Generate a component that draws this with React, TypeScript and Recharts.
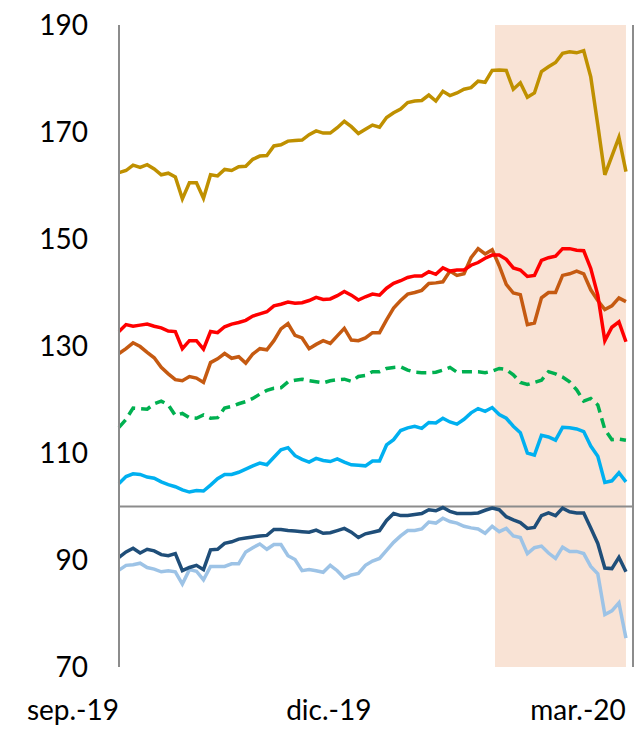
import { LineChart, Line, XAxis, YAxis, ReferenceArea, ReferenceLine } from 'recharts'

// sampled roughly every 2-3 days, sep.-19 to mar.-20 (index 100 = base line)
const gold = [
  162.4, 162.8, 163.8, 163.4, 163.9, 163.1, 162.0, 162.3, 161.6, 157.5,
  160.5, 160.5, 157.6, 162.0, 161.8, 163.0, 162.8, 163.5, 163.6, 164.9,
  165.5, 165.6, 167.4, 167.6, 168.3, 168.4, 168.5, 169.5, 170.2, 169.8,
  169.8, 170.8, 172.0, 171.0, 169.7, 170.5, 171.3, 170.9, 172.7, 173.6,
  174.3, 175.5, 175.8, 175.9, 176.9, 175.8, 177.6, 176.8, 177.3, 178.0,
  178.3, 179.5, 179.3, 181.5, 181.6, 181.5, 178.0, 179.2, 176.5, 177.3,
  181.3, 182.2, 183.0, 184.7, 185.0, 184.8, 185.2, 180.3, 171.3, 162.0,
  165.5, 169.0, 162.6,
]
const red = [
  132.7, 134.0, 133.7, 133.9, 134.1, 133.7, 133.4, 132.8, 132.7, 129.5,
  131.0, 131.0, 129.4, 132.7, 132.5, 133.6, 134.1, 134.4, 134.8, 135.6,
  136.0, 136.4, 137.5, 137.8, 138.2, 138.0, 138.1, 138.5, 139.1, 138.7,
  138.8, 139.4, 140.2, 139.5, 138.6, 139.2, 139.7, 139.5, 140.8, 141.7,
  142.2, 142.8, 143.1, 143.1, 143.9, 143.4, 144.6, 144.0, 144.2, 144.2,
  145.1, 145.6, 146.4, 147.0, 147.0, 146.2, 144.6, 144.2, 143.0, 143.2,
  146.0, 146.5, 146.8, 148.2, 148.2, 147.9, 147.8, 144.5, 139.5, 131.0,
  133.5, 134.5, 130.8,
]
const orange = [
  128.6, 129.5, 130.6, 129.9, 128.8, 127.8, 126.0, 124.8, 123.7, 123.5,
  124.3, 124.0, 123.2, 126.9, 127.6, 128.6, 127.7, 128.0, 126.8, 128.5,
  129.5, 129.3, 131.0, 133.2, 134.2, 132.0, 131.5, 129.5, 130.3, 131.0,
  130.5, 131.9, 133.3, 131.1, 131.0, 131.5, 132.5, 132.5, 134.9, 137.1,
  138.5, 139.7, 140.0, 140.4, 141.7, 141.8, 142.0, 144.0, 143.2, 143.5,
  146.5, 148.2, 147.2, 148.0, 145.0, 141.5, 139.9, 139.6, 134.0, 134.3,
  139.0, 140.0, 140.0, 143.2, 143.5, 144.0, 143.5, 140.5, 138.5, 136.8,
  137.5, 139.0, 138.3,
]
const green = [
  114.8, 116.3, 118.4, 118.3, 118.2, 119.2, 119.7, 119.0, 117.0, 117.4,
  116.6, 116.5, 117.1, 116.5, 116.6, 118.4, 118.7, 119.2, 119.6, 120.2,
  121.0, 121.7, 122.1, 122.2, 123.3, 123.6, 123.8, 123.5, 123.3, 123.1,
  123.5, 123.7, 123.8, 123.4, 124.3, 124.5, 125.2, 125.2, 125.8, 126.0,
  126.1, 125.5, 125.1, 125.0, 125.0, 125.1, 125.5, 126.0, 125.1, 125.2,
  125.2, 125.2, 125.0, 125.3, 125.8, 125.6, 124.6, 123.2, 122.8, 123.2,
  123.6, 125.2, 124.8, 124.2, 123.3, 121.8, 119.7, 120.2, 119.0, 114.4,
  112.5, 112.6, 112.4,
]
const lightBlue = [
  104.3, 105.6, 106.1, 106.0, 105.5, 105.3, 104.6, 104.1, 103.7, 103.1,
  102.7, 103.0, 102.9, 104.0, 105.2, 106.0, 106.0, 106.4, 107.0, 107.6,
  108.1, 107.8, 109.2, 110.6, 111.0, 109.5, 108.8, 108.3, 109.0, 108.6,
  108.4, 108.9, 108.3, 107.8, 107.7, 107.6, 108.5, 108.5, 111.5, 112.5,
  114.2, 114.7, 115.0, 114.6, 115.7, 115.6, 116.5, 115.8, 115.4, 116.3,
  117.5, 118.3, 117.8, 118.5, 117.2, 116.5, 115.0, 113.8, 110.0, 109.6,
  113.3, 113.0, 112.4, 114.8, 114.7, 114.5, 114.0, 111.3, 109.4, 104.5,
  104.8, 106.3, 104.6,
]
const darkBlue = [
  90.5, 91.5, 92.2, 91.3, 92.0, 91.7, 91.0, 90.8, 91.2, 88.0,
  88.6, 89.0, 88.2, 91.9, 92.0, 93.1, 93.4, 93.9, 94.1, 94.3,
  94.5, 94.6, 95.7, 95.7, 95.5, 95.4, 95.3, 95.2, 95.6, 95.0,
  95.1, 95.5, 95.9, 95.2, 94.2, 94.9, 95.2, 95.5, 97.4, 98.7,
  98.3, 98.3, 98.5, 98.7, 99.4, 99.2, 99.8, 99.1, 98.7, 98.7,
  98.7, 98.8, 99.3, 99.7, 99.4, 98.1, 97.5, 97.0, 95.9, 96.1,
  98.3, 98.8, 98.3, 99.7, 99.0, 98.8, 98.8, 96.0, 93.1, 88.5,
  88.4, 90.5, 87.8,
]
const paleBlue = [
  88.1, 89.0, 89.1, 89.4, 88.6, 88.3, 87.8, 88.0, 87.8, 85.5,
  88.2, 87.9, 86.3, 88.8, 88.8, 88.8, 89.3, 89.3, 91.5, 92.3,
  93.0, 92.0, 92.9, 92.9, 90.8, 90.1, 88.0, 88.2, 88.0, 87.7,
  89.0, 88.0, 86.6, 87.2, 87.5, 89.0, 89.8, 90.3, 91.8, 93.3,
  94.5, 95.5, 95.5, 95.8, 97.1, 96.9, 97.8, 97.2, 96.9, 96.3,
  96.0, 95.8, 95.0, 96.3, 95.3, 95.9, 94.5, 94.2, 91.2, 92.3,
  92.6, 91.3, 90.3, 92.4, 91.6, 91.6, 91.2, 88.8, 87.4, 79.8,
  80.5, 82.0, 75.4,
]

const yTicks = [70, 90, 110, 130, 150, 170, 190]
const monthLabels = ['sep.-19', 'dic.-19', 'mar.-20']
const monthPos = [0, 29.8, 65.2]
// shaded period
const shadeFrom = 53.4
const shadeTo = 72

const data = gold.map((v, i) => ({
  t: i,
  gold: v,
  red: red[i],
  orange: orange[i],
  green: green[i],
  lightBlue: lightBlue[i],
  darkBlue: darkBlue[i],
  paleBlue: paleBlue[i],
}))

const FONT = 'Lato, "Open Sans", sans-serif'

const MonthTick = (props: any) => {
  const { x, y, payload } = props
  const i = monthPos.indexOf(payload.value)
  return (
    <text
      x={x}
      y={y + 53}
      textAnchor={i === 0 ? 'end' : 'middle'}
      fontSize={28}
      fontFamily={FONT}
      fill="#000"
    >
      {monthLabels[i]}
    </text>
  )
}

const App = () => {
  return (
    <div style={{ position: 'absolute', left: 0, top: 0, width: 636, height: 729, background: '#fff' }}>
      <LineChart width={636} height={729} data={data} margin={{ top: 25, right: 0, bottom: 0, left: 0 }}>
        <ReferenceArea
          yAxisId="left"
          x1={shadeFrom}
          x2={shadeTo}
          fill="#F9E3D5"
          fillOpacity={1}
          stroke="none"
        />
        <XAxis
          dataKey="t"
          type="number"
          domain={[0, 73]}
          ticks={monthPos}
          interval={0}
          axisLine={false}
          tickLine={false}
          tickSize={0}
          tickMargin={0}
          height={62}
          tick={<MonthTick />}
        />
        <YAxis
          yAxisId="left"
          domain={[70, 190]}
          ticks={yTicks}
          interval={0}
          width={119}
          tickLine={false}
          tickSize={0}
          tickMargin={31}
          axisLine={{ stroke: '#8C8C8C', strokeWidth: 2 }}
          tick={{ fontSize: 28, fontFamily: FONT, fill: '#000' }}
        />
        <YAxis
          yAxisId="right"
          orientation="right"
          domain={[70, 190]}
          width={3}
          tick={false}
          tickLine={false}
          axisLine={{ stroke: '#8C8C8C', strokeWidth: 2 }}
        />
        <ReferenceLine yAxisId="left" y={100} stroke="#8C8C8C" strokeWidth={2} />
        <Line yAxisId="left" dataKey="gold" stroke="#BF9000" strokeWidth={3.5} dot={false} isAnimationActive={false} />
        <Line yAxisId="left" dataKey="orange" stroke="#C55A11" strokeWidth={3.5} dot={false} isAnimationActive={false} />
        <Line yAxisId="left" dataKey="red" stroke="#FF0000" strokeWidth={3.5} dot={false} isAnimationActive={false} />
        <Line yAxisId="left" dataKey="green" stroke="#00B050" strokeWidth={3.5} strokeDasharray="10 6" dot={false} isAnimationActive={false} />
        <Line yAxisId="left" dataKey="lightBlue" stroke="#00B0F0" strokeWidth={3.5} dot={false} isAnimationActive={false} />
        <Line yAxisId="left" dataKey="paleBlue" stroke="#9DC3E6" strokeWidth={3.5} dot={false} isAnimationActive={false} />
        <Line yAxisId="left" dataKey="darkBlue" stroke="#1F4E79" strokeWidth={3.5} dot={false} isAnimationActive={false} />
      </LineChart>
    </div>
  )
}

export default App
